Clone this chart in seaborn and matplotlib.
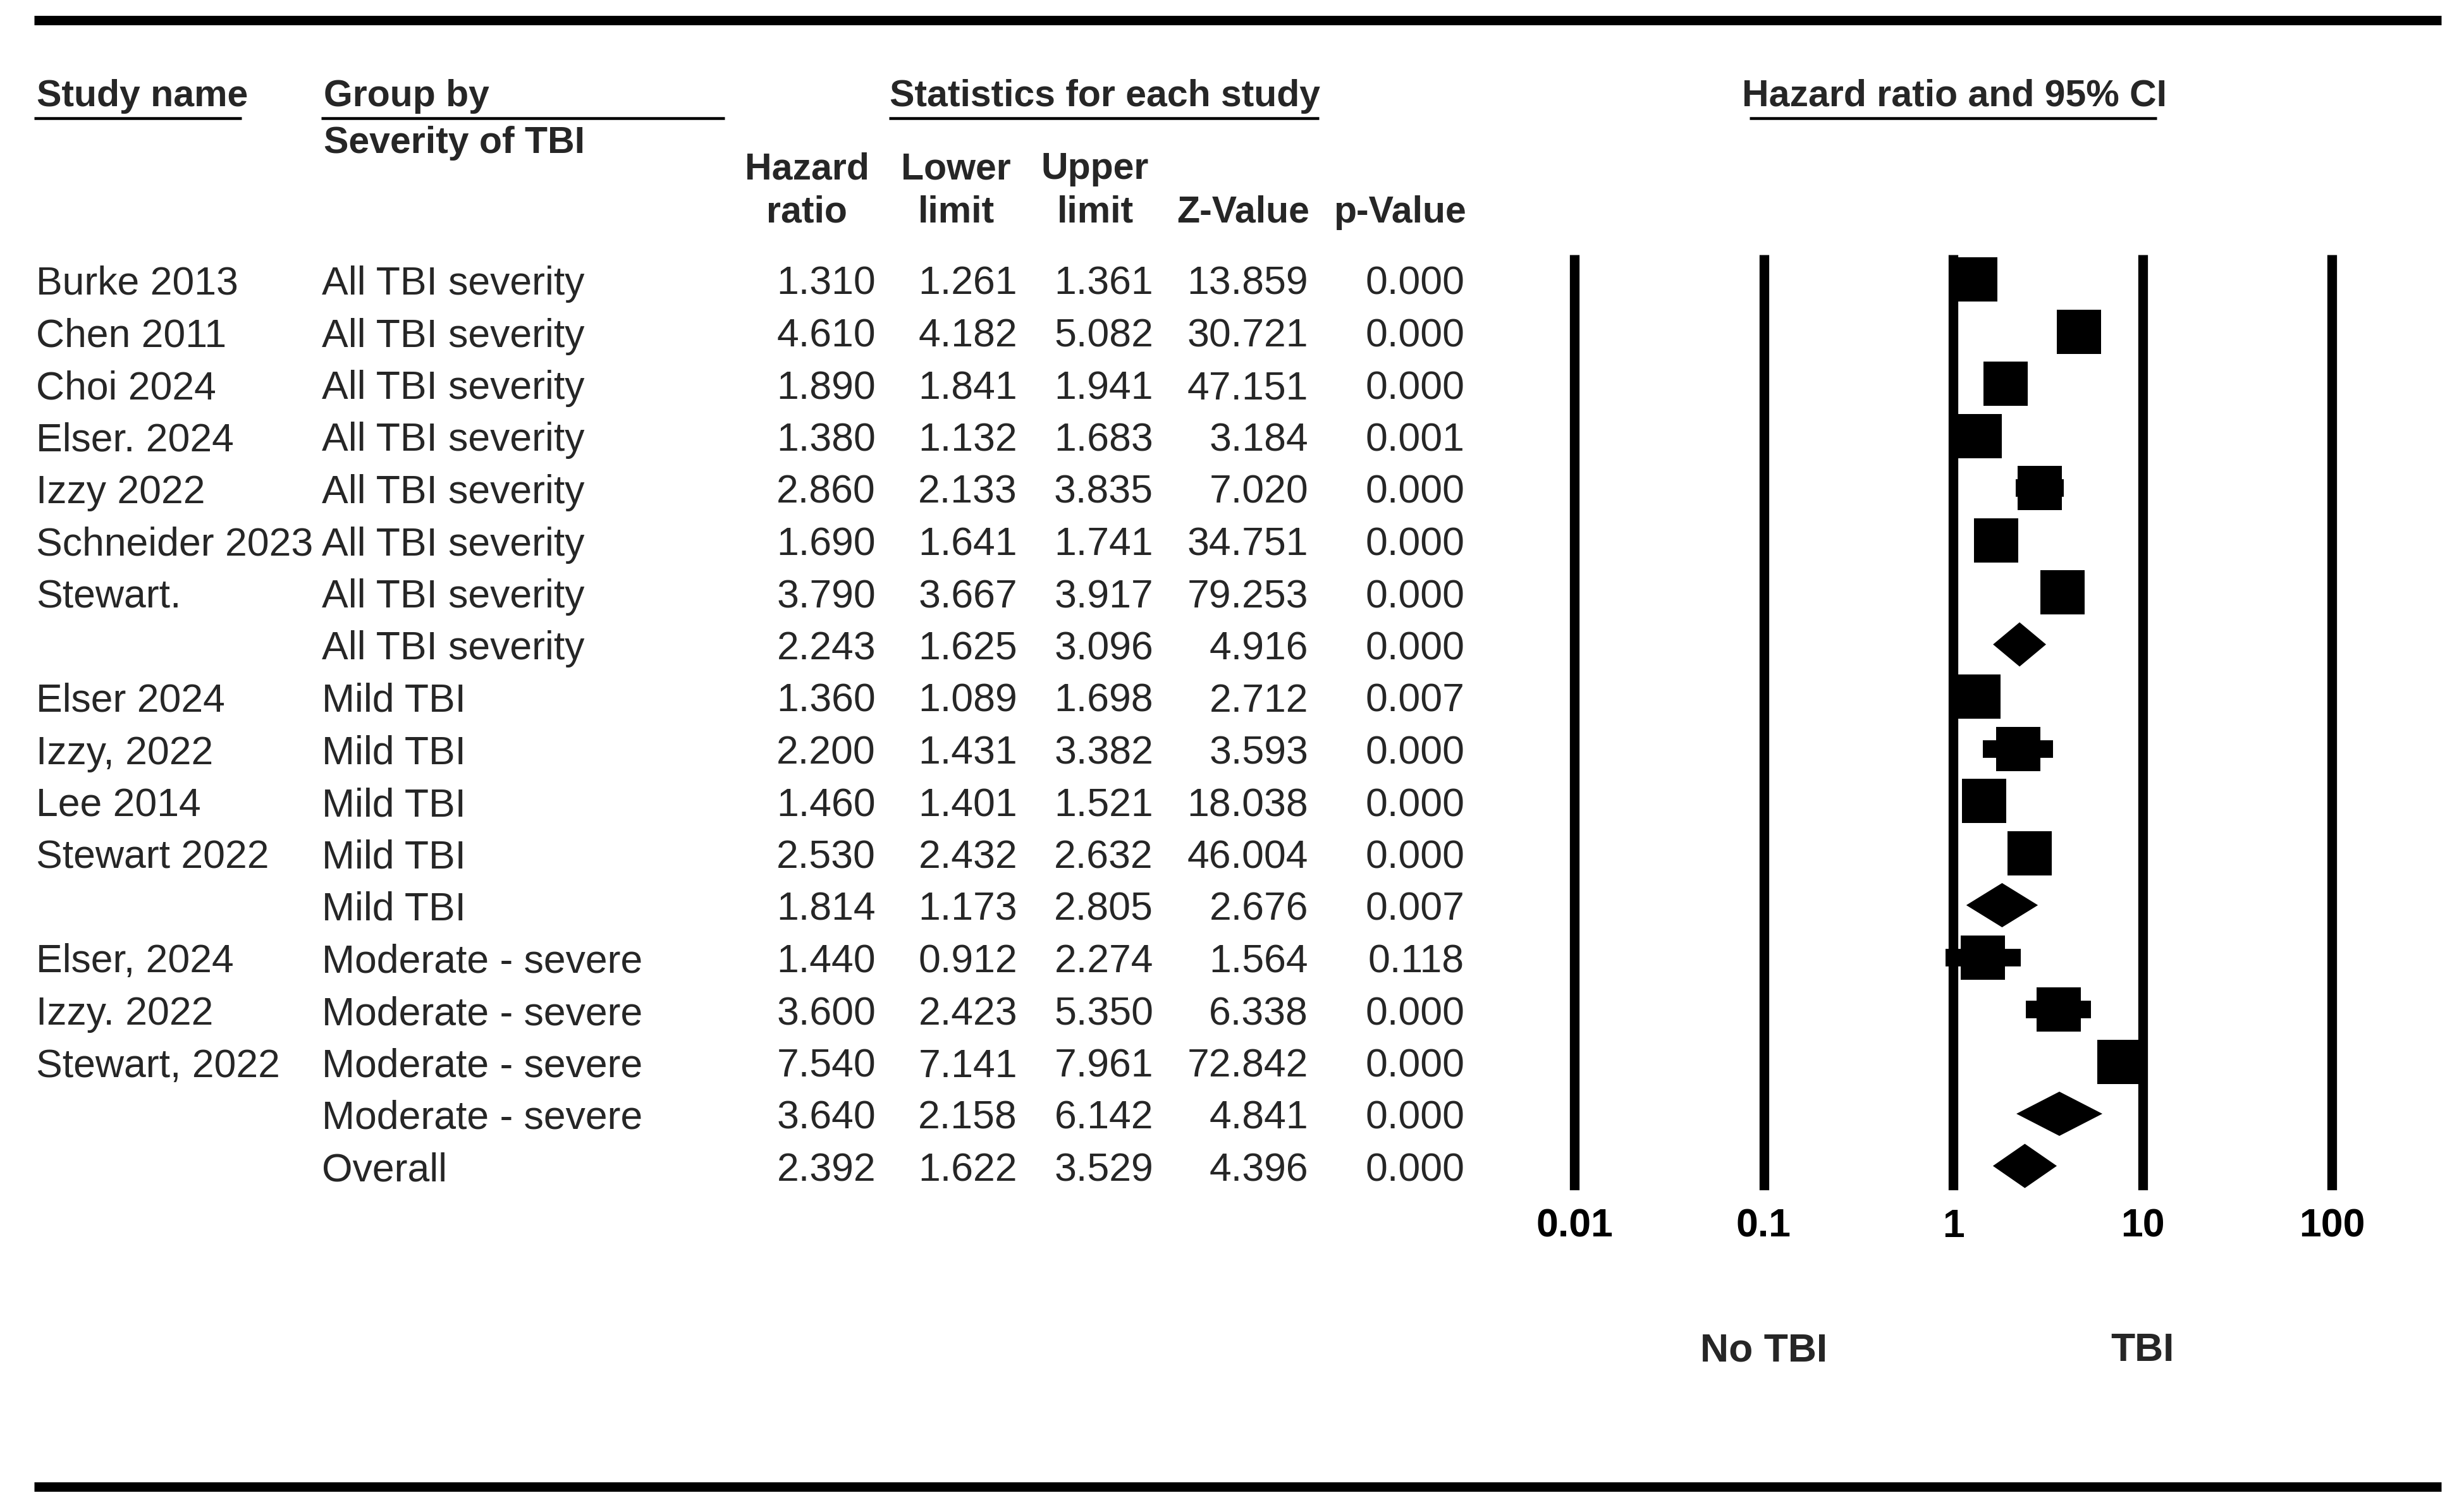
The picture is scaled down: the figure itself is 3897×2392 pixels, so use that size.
import matplotlib
matplotlib.use('Agg')
import matplotlib.pyplot as plt
import numpy as np
import pandas as pd
import seaborn as sns

# Data
study = ['Burke 2013', 'Chen 2011', 'Choi 2024', 'Elser. 2024', 'Izzy 2022',
         'Schneider 2023', 'Stewart.', '', 'Elser 2024', 'Izzy, 2022',
         'Lee 2014', 'Stewart 2022', '', 'Elser, 2024', 'Izzy. 2022',
         'Stewart, 2022', '', '']
group = (['All TBI severity'] * 8 + ['Mild TBI'] * 5
         + ['Moderate - severe'] * 4 + ['Overall'])
hazard = [1.310, 4.610, 1.890, 1.380, 2.860, 1.690, 3.790, 2.243, 1.360,
          2.200, 1.460, 2.530, 1.814, 1.440, 3.600, 7.540, 3.640, 2.392]
lower = [1.261, 4.182, 1.841, 1.132, 2.133, 1.641, 3.667, 1.625, 1.089,
         1.431, 1.401, 2.432, 1.173, 0.912, 2.423, 7.141, 2.158, 1.622]
upper = [1.361, 5.082, 1.941, 1.683, 3.835, 1.741, 3.917, 3.096, 1.698,
         3.382, 1.521, 2.632, 2.805, 2.274, 5.350, 7.961, 6.142, 3.529]
z_value = [13.859, 30.721, 47.151, 3.184, 7.020, 34.751, 79.253, 4.916,
           2.712, 3.593, 18.038, 46.004, 2.676, 1.564, 6.338, 72.842,
           4.841, 4.396]
p_value = [0.000, 0.000, 0.000, 0.001, 0.000, 0.000, 0.000, 0.000, 0.007,
           0.000, 0.000, 0.000, 0.007, 0.118, 0.000, 0.000, 0.000, 0.000]
is_summary = [s == '' for s in study]

col_top = ['Hazard', 'Lower', 'Upper', '', '']
col_bottom = ['ratio', 'limit', 'limit', 'Z-Value', 'p-Value']
x_ticks = [0.01, 0.1, 1, 10, 100]
x_tick_labels = ['0.01', '0.1', '1', '10', '100']

df = pd.DataFrame({'study': study, 'group': group, 'hr': hazard,
                   'lower': lower, 'upper': upper, 'z': z_value,
                   'p': p_value, 'summary': is_summary})
df['row'] = np.arange(len(df))

# Graphic style config
sns.set_theme(style='white')
plt.rcParams['font.family'] = ['Liberation Sans', 'DejaVu Sans']
FS = 18      # body text
FSB = 17     # bold headers

W, H = 3897, 2392
fig = plt.figure(figsize=(W / 250, H / 250), dpi=250)

# text/table layer in pixel coordinates
ax_t = fig.add_axes([0, 0, 1, 1])
ax_t.set_xlim(0, W)
ax_t.set_ylim(H, 0)
ax_t.axis('off')

# heavy rules top and bottom
ax_t.hlines([32, 2352], 54, 3861, color='black', lw=4.3)

# headers
head_y = 168
bold = dict(fontsize=FSB, fontweight='bold', va='baseline')
ax_t.text(58, head_y, 'Study name', **bold)
ax_t.text(512, head_y, 'Group by', **bold)
ax_t.text(512, 242, 'Severity of TBI', **bold)
ax_t.text(1748, head_y, 'Statistics for each study', ha='center', **bold)
ax_t.text(3091, head_y, 'Hazard ratio and 95% CI', ha='center', **bold)
ax_t.hlines([187] * 4, [54, 508, 1406, 2767], [382, 1146, 2086, 3411],
            color='black', lw=1.3)

col_centers = [1276, 1512, 1732, 1966, 2214]
for cx, top, bottom in zip(col_centers, col_top, col_bottom):
    ax_t.text(cx, 283, top, ha='center', **bold)
    ax_t.text(cx, 352, bottom, ha='center', **bold)

# table rows
row_base0, row_step = 466, 82.5
num_right = [1385, 1609, 1824, 2069, 2316]
for i, r in df.iterrows():
    yb = row_base0 + row_step * i
    ax_t.text(57, yb, r['study'], fontsize=FS, va='baseline')
    ax_t.text(509, yb, r['group'], fontsize=FS, va='baseline')
    vals = [r['hr'], r['lower'], r['upper'], r['z'], r['p']]
    for xr, v in zip(num_right, vals):
        ax_t.text(xr, yb, f'{v:.3f}', fontsize=FS, va='baseline', ha='right')

# forest plot axes
px_left, px_right = 2380, 3820
px_dec0, px_dec = 2490, 299.5
lg_l = -2 + (px_left - px_dec0) / px_dec
lg_r = -2 + (px_right - px_dec0) / px_dec
ax_top, ax_bot = 403, 1883
row_c0 = 442
ax_f = fig.add_axes([px_left / W, 1 - ax_bot / H,
                     (px_right - px_left) / W, (ax_bot - ax_top) / H])
ax_f.set_xscale('log')
ax_f.set_xlim(10 ** lg_l, 10 ** lg_r)
ax_f.set_ylim((ax_bot - row_c0) / row_step, (ax_top - row_c0) / row_step)
ax_f.patch.set_alpha(0)
for sp in ax_f.spines.values():
    sp.set_visible(False)

for xv in x_ticks:
    ax_f.axvline(xv, color='black', lw=4.4, solid_capstyle='butt', zorder=1)

studies = df[~df['summary']]
ax_f.hlines(studies['row'], studies['lower'], studies['upper'],
            color='black', lw=8, zorder=2)
sns.scatterplot(data=studies, x='hr', y='row', marker='s', s=400,
                color='black', linewidth=0, ax=ax_f, zorder=3, legend=False)

half_h = 35 / row_step
for _, r in df[df['summary']].iterrows():
    ax_f.fill([r['lower'], r['hr'], r['upper'], r['hr']],
              [r['row'], r['row'] - half_h, r['row'], r['row'] + half_h],
              color='black', lw=0, zorder=3)

ax_f.set_xticks(x_ticks)
ax_f.set_xticklabels(x_tick_labels, fontsize=FS, fontweight='bold')
ax_f.minorticks_off()
ax_f.tick_params(axis='x', length=0, pad=8, colors='black')
ax_f.set_yticks([])
ax_f.set_xlabel('')
ax_f.set_ylabel('')

lab_y = (ax_bot - 2153) / (ax_bot - ax_top)
ax_f.text(0.1, lab_y, 'No TBI', transform=ax_f.get_xaxis_transform(),
          fontsize=FS, fontweight='bold', ha='center', va='baseline')
ax_f.text(10, lab_y, 'TBI', transform=ax_f.get_xaxis_transform(),
          fontsize=FS, fontweight='bold', ha='center', va='baseline')

fig.savefig('out.png', dpi=250, facecolor='white')
